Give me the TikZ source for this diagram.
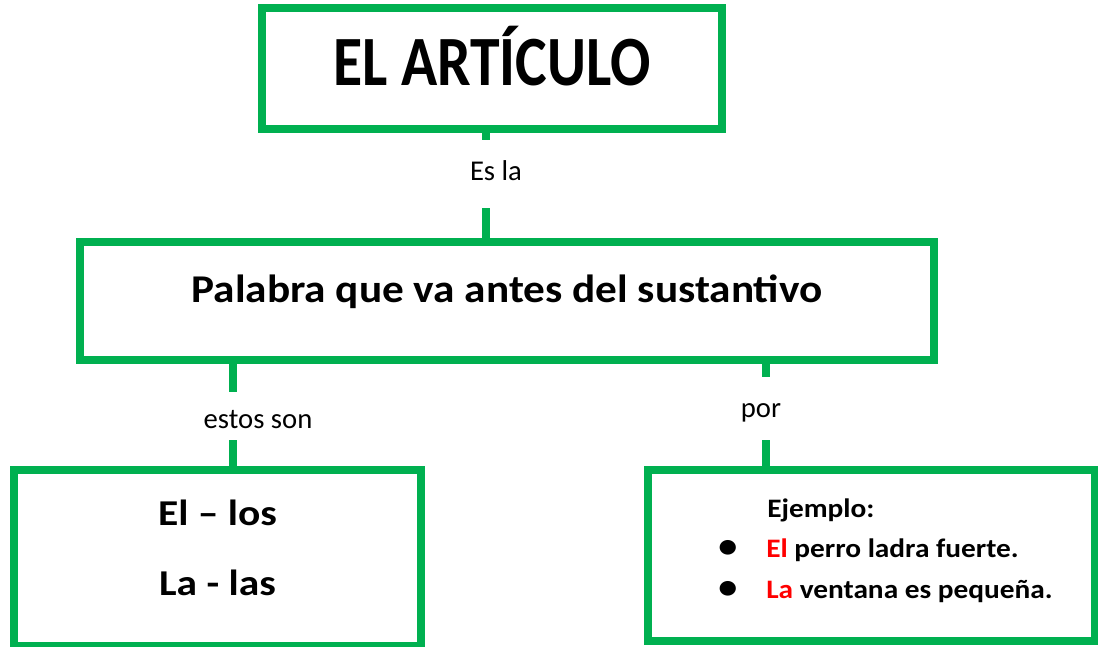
\documentclass[tikz,border=0pt]{standalone}
\usepackage{fontspec}
\setmainfont{Carlito}
\usepackage{graphicx}
\usepackage{tikz}
\usetikzlibrary{positioning}
\definecolor{mapgreen}{RGB}{0,176,80}
\definecolor{mapred}{RGB}{255,0,0}
\newcommand{\mapdot}{\makebox[32.7pt][l]{\scalebox{1.3}{\textbullet}}}
\tikzset{
	box/.style={rectangle, draw=mapgreen, line width=6pt, inner sep=0pt},
	lbl/.style={inner sep=0pt, font=\fontsize{21.5}{26}\selectfont},
	link/.style={draw=mapgreen, line width=6pt}
}

\begin{document}
\begin{tikzpicture}[x=0.75pt, y=-0.75pt]
		\useasboundingbox (0,0) rectangle (1098,646);
		\node[box, minimum width=345pt, text height=57.75pt, text depth=33pt, font=\bfseries\fontsize{53}{60}\selectfont] (art) at (492,68.5) {\scalebox{0.845}[1]{EL ARTÍCULO}};
		\node[box, minimum width=640.5pt, text height=45pt, text depth=43.5pt, font=\bfseries\fontsize{29.5}{36}\selectfont] (pal) at (507,301) {\scalebox{1.1}[1]{Palabra que va antes del sustantivo}};
		\node[box, minimum width=305.25pt, text height=41.25pt, text depth=90.75pt, font=\bfseries\fontsize{27.3}{52.5}\selectfont] (forms) at (217.5,558) {\scalebox{1.14}[1]{\begin{tabular}[t]{@{}c@{}}El – los\\ La - las\end{tabular}}};
		\node[box, minimum width=335.25pt, text height=35.25pt, text depth=93pt, font=\bfseries\fontsize{20}{30.4}\selectfont] (ejemplo) at (871.5,555.5) {\scalebox{1.1}[1]{\begin{tabular}[t]{@{\hspace{19.1pt}}l@{}}
				\hspace{33.4pt}Ejemplo:\\
				\mapdot\textcolor{mapred}{El} perro ladra fuerte.\\
				\mapdot\textcolor{mapred}{La} ventana es pequeña.
			\end{tabular}}};
		\node[lbl, text height=30pt, text depth=21pt] (esla) at (496,174) {Es la};
		\node[lbl, text height=27pt, text depth=9pt] (estos) at (258,416) {estos son};
		\node[lbl, text height=30pt, text depth=17.25pt] (por) at (761,408.5) {por};
		\coordinate (c1) at (486,0);
		\coordinate (c2) at (233,0);
		\coordinate (c3) at (766,0);
		\draw[link] (art.south -| c1) -- (esla.north -| c1);
		\draw[link] (esla.south -| c1) -- (pal.north -| c1);
		\draw[link] (pal.south -| c2) -- (estos.north -| c2);
		\draw[link] (estos.south -| c2) -- (forms.north -| c2);
		\draw[link] (pal.south -| c3) -- (por.north -| c3);
		\draw[link] (por.south -| c3) -- (ejemplo.north -| c3);
		\end{tikzpicture}
\end{document}
